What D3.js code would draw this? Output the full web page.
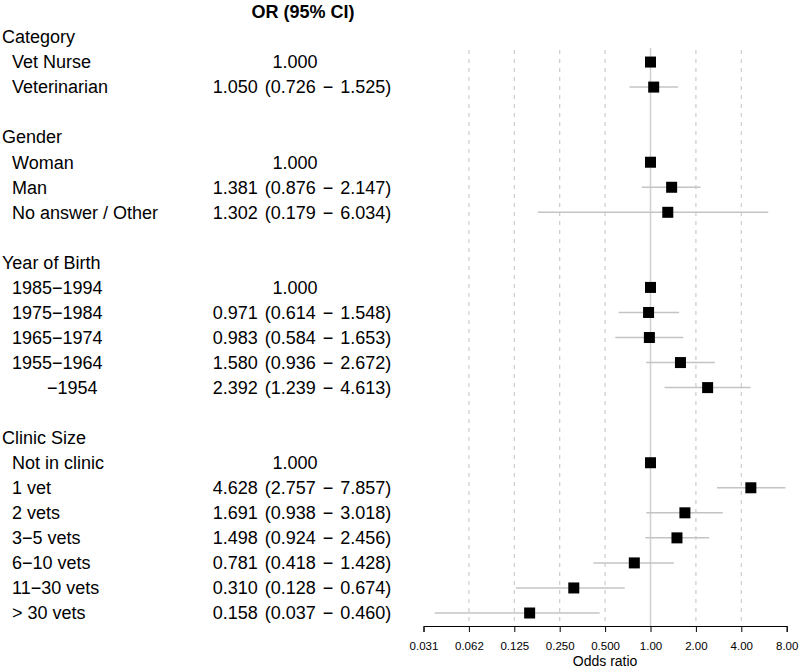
<!DOCTYPE html>
<html>
<head>
<meta charset="utf-8">
<script src="https://cdn.jsdelivr.net/npm/d3@7"></script>
<style>
  body { margin: 0; background: #fff; }
  text { font-family: "Liberation Sans", Arial, sans-serif; }
</style>
</head>
<body>
<svg id="chart" width="799" height="671"></svg>
<script>
// rows of the forest plot, top to bottom ("" = spacer row)
const labels = [
  "Category", "Vet Nurse", "Veterinarian", "",
  "Gender", "Woman", "Man", "No answer / Other", "",
  "Year of Birth", "1985\u22121994", "1975\u22121984", "1965\u22121974", "1955\u22121964", "       \u22121954", "",
  "Clinic Size", "Not in clinic", "1 vet", "2 vets", "3\u22125 vets", "6\u221210 vets", "11\u221230 vets", "> 30 vets"
]
const isHeader = [
  true, false, false, false,
  true, false, false, false, false,
  true, false, false, false, false, false, false,
  true, false, false, false, false, false, false, false
]
const oddsRatio = [
  null, 1.000, 1.050, null,
  null, 1.000, 1.381, 1.302, null,
  null, 1.000, 0.971, 0.983, 1.580, 2.392, null,
  null, 1.000, 4.628, 1.691, 1.498, 0.781, 0.310, 0.158
]
const lower = [
  null, null, 0.726, null,
  null, null, 0.876, 0.179, null,
  null, null, 0.614, 0.584, 0.936, 1.239, null,
  null, null, 2.757, 0.938, 0.924, 0.418, 0.128, 0.037
]
const upper = [
  null, null, 1.525, null,
  null, null, 2.147, 6.034, null,
  null, null, 1.548, 1.653, 2.672, 4.613, null,
  null, null, 7.857, 3.018, 2.456, 1.428, 0.674, 0.460
]
const tickValues = [1/32, 1/16, 1/8, 1/4, 1/2, 1, 2, 4, 8]
const tickLabels = ["0.031", "0.062", "0.125", "0.250", "0.500", "1.00", "2.00", "4.00", "8.00"]

const svg = d3.select("#chart")
const fontSize = 18

const x = d3.scaleLog().base(2).domain([1/32, 8]).range([423.5, 786.7])
const y = d3.scalePoint().domain(d3.range(labels.length)).range([37, 613])
const axisY = 626

const fmt = d3.format(".3f")
const orText = i => {
  if (lower[i] == null) return fmt(oddsRatio[i])
  return `${fmt(oddsRatio[i])} (${fmt(lower[i])} \u2212 ${fmt(upper[i])})`
}

// grid lines
svg.append("g")
  .selectAll("line")
  .data(tickValues.filter(d => d !== 1 && d !== 1/32 && d !== 8))
  .join("line")
  .attr("x1", d => x(d)).attr("x2", d => x(d))
  .attr("y1", 50).attr("y2", 622)
  .attr("stroke", "#cccccc")
  .attr("stroke-width", 1.2)
  .attr("stroke-dasharray", "4,5")

svg.append("line")
  .attr("x1", x(1)).attr("x2", x(1))
  .attr("y1", 48).attr("y2", axisY)
  .attr("stroke", "#d0d0d0")
  .attr("stroke-width", 1.5)

// header
svg.append("text")
  .attr("x", 303).attr("y", 12)
  .attr("dy", "0.35em")
  .attr("text-anchor", "middle")
  .attr("font-weight", "bold")
  .attr("font-size", fontSize)
  .text("OR (95% CI)")

const rows = d3.range(labels.length)

// labels
svg.append("g")
  .selectAll("text")
  .data(rows)
  .join("text")
  .attr("x", i => isHeader[i] ? 2 : 12)
  .attr("y", i => y(i))
  .attr("dy", "0.35em")
  .attr("font-size", fontSize)
  .style("white-space", "pre")
  .text(i => labels[i])

svg.append("g")
  .selectAll("text")
  .data(rows.filter(i => oddsRatio[i] != null))
  .join("text")
  .attr("x", i => lower[i] == null ? 295 : 302)
  .attr("y", i => y(i))
  .attr("dy", "0.35em")
  .attr("text-anchor", "middle")
  .attr("font-size", fontSize)
  .style("word-spacing", "2px")
  .text(orText)

// CI lines
svg.append("g")
  .selectAll("line")
  .data(rows.filter(i => lower[i] != null))
  .join("line")
  .attr("x1", i => x(lower[i])).attr("x2", i => x(upper[i]))
  .attr("y1", i => y(i)).attr("y2", i => y(i))
  .attr("stroke", "#c4c4c4")
  .attr("stroke-width", 1.5)

// point estimates
const sq = 11
svg.append("g")
  .selectAll("rect")
  .data(rows.filter(i => oddsRatio[i] != null))
  .join("rect")
  .attr("x", i => x(oddsRatio[i]) - sq / 2)
  .attr("y", i => y(i) - sq / 2)
  .attr("width", sq).attr("height", sq)
  .attr("fill", "#000")

// x axis
const xAxis = svg.append("g")
  .attr("transform", `translate(0,${axisY})`)
  .call(d3.axisBottom(x).tickValues(tickValues)
    .tickFormat((d, i) => tickLabels[i]).tickSizeOuter(0).tickSize(6).tickPadding(10))
xAxis.select(".domain").attr("stroke", "#000")
xAxis.selectAll(".tick line").attr("stroke", "#000")
xAxis.selectAll(".tick text")
  .attr("font-size", 11.5)
  .attr("font-family", "Liberation Sans, Arial, sans-serif")
  .attr("fill", "#000")

svg.append("text")
  .attr("x", (x.range()[0] + x.range()[1]) / 2)
  .attr("y", 661)
  .attr("dy", "0.35em")
  .attr("text-anchor", "middle")
  .attr("font-size", 14)
  .text("Odds ratio")
</script>
</body>
</html>
